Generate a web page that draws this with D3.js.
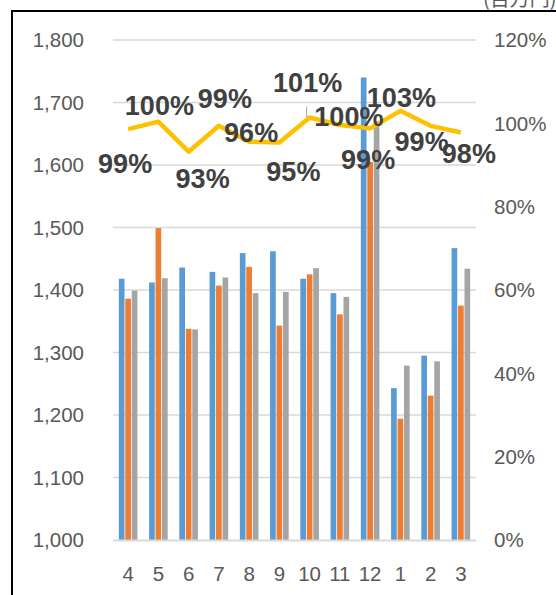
<!DOCTYPE html>
<html>
<head>
<meta charset="utf-8">
<script src="https://cdn.jsdelivr.net/npm/d3@7"></script>
<style>
  html, body { margin: 0; padding: 0; background: #fff; overflow: hidden; }
  svg { display: block; }
</style>
</head>
<body>
<div id="chart"></div>
<script>
// months (fiscal year order)
const months = ["4", "5", "6", "7", "8", "9", "10", "11", "12", "1", "2", "3"];

// three bar series (百万円)
const seriesA = [1418, 1412, 1436, 1429, 1459, 1462, 1418, 1395, 1740, 1243, 1295, 1467];
const seriesB = [1386, 1499, 1338, 1407, 1437, 1343, 1425, 1361, 1605, 1194, 1231, 1375];
const seriesC = [1399, 1419, 1337, 1420, 1395, 1397, 1435, 1389, 1670, 1279, 1286, 1434];

// ratio line (right axis)
const ratio = [0.986, 1.004, 0.932, 0.994, 0.956, 0.954, 1.014, 0.996, 0.988, 1.03, 0.994, 0.978];

const leftTicks = [1000, 1100, 1200, 1300, 1400, 1500, 1600, 1700, 1800];
const rightTicks = [0, 0.2, 0.4, 0.6, 0.8, 1.0, 1.2];

// manual label nudges (as dragged in the original sheet)
const labelOffsets = [[-3, 34], [1, -16], [14, 27], [6, -28], [2, -9], [14, 29],
                      [-2, -35], [9, -9], [-2, 31], [1, -14], [-9, 15], [8, 21]];

const width = 556, height = 595;
const plot = { left: 113, right: 476, top: 40, bottom: 540 };

const svg = d3.select("#chart").append("svg")
    .attr("width", width)
    .attr("height", height);

// outer frame (clipped by the page on the right / bottom)
svg.append("rect")
    .attr("x", 12).attr("y", 11)
    .attr("width", 600).attr("height", 700)
    .attr("fill", "none")
    .attr("stroke", "#000")
    .attr("stroke-width", 2);

svg.append("text")
    .attr("x", 483).attr("y", 6)
    .attr("font-family", "'Noto Sans CJK JP', sans-serif")
    .attr("font-size", 20)
    .attr("fill", "#595959")
    .text("(百万円)");

const x = d3.scaleBand().domain(months).range([plot.left, plot.right]);
const yL = d3.scaleLinear().domain([1000, 1800]).range([plot.bottom, plot.top]);
const yR = d3.scaleLinear().domain([0, 1.2]).range([plot.bottom, plot.top]);

const series = [
    { name: "A", values: seriesA, color: "#5B9BD5" },
    { name: "B", values: seriesB, color: "#ED7D31" },
    { name: "C", values: seriesC, color: "#A5A5A5" }
];

const groupW = 18.6;
const xs = d3.scaleBand().domain(series.map(d => d.name))
    .range([-groupW / 2, groupW / 2]).paddingInner(0.12);

// gridlines
svg.append("g")
    .selectAll("line")
    .data(leftTicks.slice(1))
    .join("line")
    .attr("x1", plot.left).attr("x2", plot.right)
    .attr("y1", d => yL(d)).attr("y2", d => yL(d))
    .attr("stroke", "#d9d9d9")
    .attr("stroke-width", 1.3);

// bars
series.forEach(s => {
    svg.append("g")
        .selectAll("rect")
        .data(s.values)
        .join("rect")
        .attr("x", (d, i) => x(months[i]) + x.bandwidth() / 2 + xs(s.name))
        .attr("width", xs.bandwidth())
        .attr("y", d => yL(d))
        .attr("height", d => yL(1000) - yL(d))
        .attr("fill", s.color);
});

// category axis line
svg.append("line")
    .attr("x1", plot.left).attr("x2", plot.right)
    .attr("y1", plot.bottom + 0.5).attr("y2", plot.bottom + 0.5)
    .attr("stroke", "#d9d9d9")
    .attr("stroke-width", 2.2);

const axisFont = "'Liberation Sans', Arial, sans-serif";

// left axis labels
svg.append("g")
    .selectAll("text")
    .data(leftTicks)
    .join("text")
    .attr("x", 84)
    .attr("y", d => yL(d))
    .attr("dy", "0.36em")
    .attr("text-anchor", "end")
    .attr("font-family", axisFont)
    .attr("font-size", 20.5)
    .attr("fill", "#595959")
    .text(d => d3.format(",")(d));

// right axis labels
svg.append("g")
    .selectAll("text")
    .data(rightTicks)
    .join("text")
    .attr("x", 494)
    .attr("y", d => yR(d))
    .attr("dy", "0.36em")
    .attr("font-family", axisFont)
    .attr("font-size", 20.5)
    .attr("fill", "#595959")
    .text(d => d3.format(".0%")(d));

// month labels
svg.append("g")
    .selectAll("text")
    .data(months)
    .join("text")
    .attr("x", d => x(d) + x.bandwidth() / 2)
    .attr("y", 574)
    .attr("dy", "0.36em")
    .attr("text-anchor", "middle")
    .attr("font-family", axisFont)
    .attr("font-size", 20.5)
    .attr("fill", "#595959")
    .text(d => d);

// ratio line
const line = d3.line()
    .x((d, i) => x(months[i]) + x.bandwidth() / 2)
    .y(d => yR(d));

svg.append("path")
    .datum(ratio)
    .attr("d", line)
    .attr("fill", "none")
    .attr("stroke", "#FFC000")
    .attr("stroke-width", 4.5)
    .attr("stroke-linejoin", "round");

// leader line for the 101% label
{
    const px = x(months[6]) + x.bandwidth() / 2, py = yR(ratio[6]);
    svg.append("line")
        .attr("x1", px - 3).attr("x2", px - 3)
        .attr("y1", py - 11).attr("y2", py)
        .attr("stroke", "#a6a6a6")
        .attr("stroke-width", 1);
}

// data labels
svg.append("g")
    .selectAll("text")
    .data(ratio)
    .join("text")
    .attr("x", (d, i) => x(months[i]) + x.bandwidth() / 2 + labelOffsets[i][0])
    .attr("y", (d, i) => yR(d) + labelOffsets[i][1])
    .attr("dy", "0.36em")
    .attr("text-anchor", "middle")
    .attr("font-family", axisFont)
    .attr("font-weight", "bold")
    .attr("font-size", 27)
    .attr("fill", "#404040")
    .text(d => d3.format(".0%")(d));
</script>
</body>
</html>
